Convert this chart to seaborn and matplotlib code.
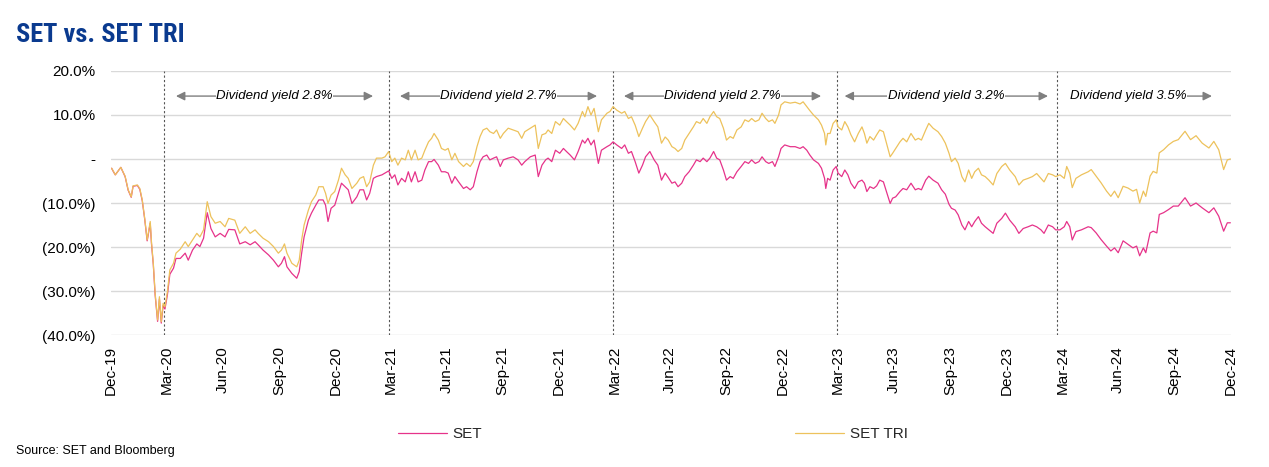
import matplotlib
matplotlib.use("Agg")
import matplotlib.pyplot as plt
import matplotlib.dates as mdates
from matplotlib import font_manager
import numpy as np
import pandas as pd
import seaborn as sns

# ---------------- data ----------------
start_date = "2019-12-31"
days_since_start = [
    1, 4, 7, 16, 23, 28, 33, 36, 43, 47, 51, 55, 59, 64, 66, 69, 72, 76, 79, 82,
    85, 88, 92, 96, 102, 106, 113, 121, 126, 133, 140, 145, 151, 157, 163, 170, 178, 186, 192, 202,
    210, 219, 227, 235, 240, 248, 257, 265, 273, 278, 283, 287, 295, 303, 307, 311, 315, 322, 327, 334,
    339, 346, 350, 354, 359, 365, 371, 376, 382, 387, 393, 401, 406, 412, 417, 422, 428, 433, 442, 447,
    453, 458, 463, 468, 474, 480, 485, 490, 496, 501, 507, 512, 518, 523, 527, 534, 539, 545, 550, 556,
    561, 567, 575, 580, 586, 591, 597, 602, 607, 613, 618, 624, 629, 635, 640, 648, 656, 664, 670, 675,
    684, 692, 697, 703, 709, 713, 719, 725, 732, 738, 743, 749, 756, 762, 769, 773, 778, 783, 788, 795,
    800, 809, 814, 819, 825, 833, 838, 844, 849, 855, 861, 867, 872, 879, 886, 892, 898, 904, 909, 915,
    920, 925, 931, 936, 943, 950, 955, 961, 966, 972, 977, 983, 988, 993, 999, 1004, 1010, 1015, 1021, 1028,
    1034, 1040, 1045, 1051, 1057, 1062, 1068, 1073, 1079, 1083, 1089, 1093, 1099, 1108, 1116, 1124, 1129, 1135, 1140, 1146,
    1154, 1159, 1164, 1166, 1169, 1173, 1178, 1183, 1186, 1192, 1197, 1202, 1207, 1213, 1219, 1225, 1229, 1233, 1238, 1244,
    1249, 1254, 1260, 1265, 1271, 1275, 1280, 1287, 1292, 1298, 1305, 1312, 1317, 1322, 1329, 1334, 1341, 1349, 1355, 1361,
    1367, 1371, 1377, 1382, 1388, 1393, 1399, 1404, 1409, 1415, 1420, 1426, 1432, 1439, 1445, 1453, 1459, 1466, 1475, 1481,
    1488, 1496, 1503, 1510, 1517, 1522, 1529, 1536, 1541, 1548, 1555, 1559, 1564, 1568, 1574, 1583, 1594, 1599, 1607, 1615,
    1624, 1631, 1637, 1643, 1651, 1659, 1667, 1673, 1678, 1684, 1688, 1695, 1700, 1706, 1710, 1717, 1725, 1733, 1741, 1752,
    1761, 1770, 1780, 1791, 1799, 1807, 1815, 1821, 1826,
]
set_tri_return = [
    -2.1, -2.8, -3.6, -1.9, -3.9, -7.0, -8.6, -6.1, -5.9, -6.7, -9.3, -13.5, -18.4, -14.2, -18.8, -23.7, -30.5, -36.6, -31.3, -37.0,
    -32.8, -33.6, -30.2, -25.2, -23.7, -21.4, -20.5, -18.8, -19.9, -18.4, -16.9, -17.7, -16.1, -9.7, -13.1, -14.6, -14.2, -15.4, -13.5, -13.9,
    -16.9, -15.4, -16.9, -16.1, -16.9, -18.0, -18.8, -19.9, -21.4, -20.7, -19.3, -21.4, -23.7, -24.5, -23.0, -18.4, -15.0, -11.6, -9.7, -8.2,
    -6.3, -6.3, -7.8, -10.1, -8.2, -7.4, -4.8, -2.1, -3.6, -4.4, -6.7, -5.5, -4.4, -4.0, -6.3, -5.2, -1.4, 0.2, 0.2, 0.5,
    1.7, -0.6, 0.2, -1.4, 0.2, -0.2, 2.0, -0.2, 2.0, -0.2, 0.2, 2.0, 3.9, 4.7, 5.8, 4.3, 2.4, 2.0, 2.4, -0.2,
    1.3, -0.6, -1.7, -1.0, -1.7, -0.6, 2.8, 5.1, 6.6, 7.0, 6.2, 5.8, 6.6, 4.7, 5.8, 7.0, 6.6, 6.2, 4.7, 6.2,
    7.0, 7.7, 2.4, 5.5, 5.8, 6.6, 5.8, 8.5, 7.7, 9.2, 8.5, 7.7, 6.6, 8.1, 10.8, 9.6, 11.9, 10.0, 11.5, 6.2,
    8.9, 10.4, 10.8, 11.9, 11.1, 10.4, 10.8, 9.2, 9.6, 7.7, 5.1, 7.0, 8.5, 10.0, 8.5, 7.3, 3.6, 5.0, 4.3, 2.8,
    2.4, 1.7, 2.4, 4.3, 5.8, 7.3, 8.5, 8.1, 9.2, 8.1, 9.6, 10.8, 9.6, 9.2, 7.0, 4.3, 5.1, 4.7, 6.6, 7.3,
    8.9, 8.5, 9.2, 8.5, 8.9, 10.4, 9.2, 8.5, 8.9, 8.1, 10.0, 12.3, 13.0, 12.7, 12.9, 12.5, 13.0, 11.9, 11.0, 10.0,
    8.9, 7.7, 5.8, 3.2, 5.8, 5.8, 8.1, 8.9, 7.3, 6.6, 8.5, 7.3, 5.5, 3.9, 5.8, 7.3, 5.8, 3.6, 5.1, 4.3,
    5.5, 6.6, 6.2, 3.6, 0.5, 1.3, 2.4, 3.9, 4.7, 3.9, 5.8, 4.3, 4.7, 4.3, 6.6, 8.1, 7.0, 6.2, 5.1, 3.6,
    1.3, -0.6, 0.2, -1.0, -4.0, -5.2, -2.5, -4.4, -2.9, -2.1, -3.6, -4.0, -4.8, -5.9, -3.3, -1.7, -1.0, -2.5, -4.0, -5.9,
    -4.8, -4.4, -4.0, -3.3, -4.4, -5.2, -3.3, -3.6, -4.0, -3.6, -4.4, -1.7, -3.3, -6.5, -4.4, -3.6, -2.9, -2.4, -3.9, -5.4,
    -7.3, -8.5, -7.3, -8.8, -6.2, -6.6, -7.3, -6.9, -10.0, -7.3, -8.5, -3.9, -2.8, -3.2, 1.4, 2.1, 3.2, 4.0, 4.4, 6.3,
    4.4, 5.3, 3.6, 2.5, 4.0, 2.1, -2.4, -0.2, 0.0,
]
set_return = [
    -2.1, -2.9, -3.6, -1.9, -4.0, -7.1, -8.7, -6.2, -6.0, -6.9, -9.5, -13.7, -18.6, -14.6, -19.2, -24.0, -30.9, -36.9, -31.8, -37.3,
    -33.3, -34.1, -30.9, -26.2, -24.8, -22.6, -22.6, -21.4, -23.0, -20.7, -19.3, -19.9, -18.0, -12.2, -15.8, -17.7, -16.9, -17.7, -16.0, -16.1,
    -19.3, -18.8, -19.5, -18.8, -19.5, -20.7, -21.8, -23.0, -24.5, -23.7, -22.2, -24.5, -26.0, -27.1, -25.6, -21.4, -17.7, -13.9, -12.3, -10.5,
    -9.3, -9.3, -10.5, -14.2, -11.2, -10.5, -7.8, -5.5, -6.3, -7.0, -10.1, -8.6, -7.0, -7.0, -9.3, -7.8, -4.4, -4.0, -3.6, -3.2,
    -2.7, -4.4, -3.6, -5.9, -4.4, -5.2, -2.9, -5.2, -2.9, -5.2, -4.8, -2.5, -0.6, -0.6, -0.1, -1.4, -2.9, -2.9, -3.2, -5.5,
    -4.0, -5.2, -6.7, -6.3, -7.0, -6.3, -2.9, -0.6, 0.5, 0.9, -0.2, 0.2, 0.5, -1.7, -0.2, 0.2, 0.5, -0.2, -1.4, -0.6,
    0.5, 0.9, -4.0, -1.4, -0.2, 0.2, -0.6, 2.0, 1.3, 2.4, 1.7, 0.9, -0.2, 1.7, 4.3, 3.6, 4.7, 3.2, 4.3, -1.0,
    2.0, 2.8, 3.2, 3.9, 3.2, 2.4, 3.2, 1.3, 1.7, -0.6, -3.2, -1.4, 0.5, 1.7, -0.2, -1.4, -4.8, -3.2, -4.2, -5.5,
    -5.2, -6.3, -5.5, -4.0, -2.9, -1.4, -0.2, -0.6, 0.2, -0.6, 0.2, 1.7, 0.2, -0.2, -2.5, -4.8, -4.0, -4.4, -2.9, -1.7,
    -0.6, -1.0, -0.2, -1.0, -0.6, 0.5, -0.6, -1.0, -0.6, -1.7, 0.5, 2.4, 3.2, 2.8, 2.8, 2.4, 2.8, 2.0, 0.9, -0.2,
    -1.0, -2.1, -4.4, -6.7, -4.4, -4.8, -2.5, -1.7, -3.2, -4.0, -2.5, -3.6, -5.5, -6.7, -5.2, -4.8, -5.5, -7.4, -6.3, -6.7,
    -6.1, -4.8, -5.2, -7.4, -10.1, -8.9, -8.6, -7.4, -6.7, -7.0, -5.5, -7.0, -6.7, -7.0, -4.8, -3.9, -4.8, -5.5, -7.0, -8.0,
    -10.3, -11.2, -11.6, -12.7, -15.0, -16.1, -14.2, -15.4, -14.2, -13.1, -14.6, -15.4, -16.1, -16.9, -14.6, -13.5, -12.3, -13.9, -15.4, -16.9,
    -15.8, -15.4, -15.0, -15.4, -16.1, -16.9, -15.0, -15.4, -16.1, -16.1, -15.4, -14.2, -15.4, -18.4, -16.5, -16.1, -15.4, -15.6, -16.8, -18.3,
    -19.8, -20.9, -20.2, -21.3, -18.6, -19.4, -20.2, -19.8, -22.0, -20.2, -21.3, -16.8, -16.4, -16.8, -12.6, -12.2, -11.5, -10.7, -10.7, -8.8,
    -10.7, -10.0, -11.1, -12.2, -11.1, -13.0, -16.4, -14.5, -14.5,
]
series_names = ["SET", "SET TRI"]
series_colors = ["#E6338A", "#EDC25C"]
period_breaks = ["2020-03-27", "2021-03-29", "2022-03-29", "2023-03-30", "2024-03-22"]
period_labels = ["Dividend yield 2.8%", "Dividend yield 2.7%", "Dividend yield 2.7%",
                 "Dividend yield 3.2%", "Dividend yield 3.5%"]
y_ticks = [-40, -30, -20, -10, 0, 10, 20]
y_tick_labels = ["(40.0%)", "(30.0%)", "(20.0%)", "(10.0%)", "-", "10.0%", "20.0%"]
title_text = "SET vs. SET TRI"
source_text = "Source: SET and Bloomberg"

# ---------------- figure ----------------
sns.set_theme(style="white")
plt.rcParams["font.family"] = ["Liberation Sans", "DejaVu Sans"]

# pick the narrowest installed bold family for the condensed headline
installed = {f.name for f in font_manager.fontManager.ttflist}
title_family = "Liberation Sans"
title_stretch = "normal"
for cand in ["Roboto Condensed", "Liberation Sans Narrow", "Open Sans Condensed",
             "Noto Sans Condensed", "DejaVu Sans Condensed"]:
    if cand in installed:
        title_family = cand
        break
condensed_files = [f for f in font_manager.fontManager.ttflist
                   if f.stretch in ("condensed", "semi-condensed", "extra-condensed", 600, 500, 300, 200)
                   or "Condensed" in f.fname or "Narrow" in f.fname]
if title_family == "Liberation Sans" and condensed_files:
    title_family = condensed_files[0].name
    title_stretch = "condensed"

W, H = 1269, 467
fig = plt.figure(figsize=(W / 100, H / 100), dpi=100)
ax = fig.add_axes([111 / W, 1 - 335 / H, 1120 / W, 264 / H])

dates = pd.Timestamp(start_date) + pd.to_timedelta(days_since_start, unit="D")
wide = pd.DataFrame({"date": dates, "SET": set_return, "SET TRI": set_tri_return})
long_df = wide.melt(id_vars="date", var_name="series", value_name="ret")

sns.lineplot(data=long_df, x="date", y="ret", hue="series", hue_order=series_names,
             palette=dict(zip(series_names, series_colors)), linewidth=0.9,
             estimator=None, ax=ax)

ax.set_ylim(-40, 20)
ax.set_yticks(y_ticks)
ax.set_yticklabels(y_tick_labels)
ax.set_xlim(pd.Timestamp("2019-12-31"), pd.Timestamp("2024-12-31"))
quarter_ticks = pd.date_range("2019-12-31", "2024-12-31", freq=pd.offsets.QuarterEnd())
ax.set_xticks(quarter_ticks)
ax.xaxis.set_major_formatter(mdates.DateFormatter("%b-%y"))
plt.setp(ax.get_xticklabels(), rotation=90)
ax.set_xlabel("")
ax.set_ylabel("")
ax.tick_params(axis="y", length=0, labelsize=11, pad=11, colors="black")
ax.tick_params(axis="x", length=0, labelsize=11, pad=8, colors="black")
ax.yaxis.grid(True, color="#d9d9d9", linewidth=1)
ax.xaxis.grid(False)
ax.set_axisbelow(True)
for s in ax.spines.values():
    s.set_visible(False)

for d in period_breaks:
    ax.axvline(pd.Timestamp(d), color="#555555", linewidth=0.8,
               linestyle=(0, (2, 2)), zorder=1.5)

# dividend-yield annotations (axes-fraction placement)
arrow_y = 0.905
arrow_spans = [(0.058, 0.234), (0.258, 0.434), (0.458, 0.634), (0.655, 0.8366)]
arrow_grey = "#7f7f7f"
for (x0, x1), lab in zip(arrow_spans, period_labels[:4]):
    ax.annotate("", xy=(x1, arrow_y), xytext=(x0, arrow_y), xycoords="axes fraction",
                arrowprops=dict(arrowstyle="<|-|>", color=arrow_grey, lw=1,
                                mutation_scale=13, shrinkA=0, shrinkB=0))
    ax.text((x0 + x1) / 2, arrow_y, lab, transform=ax.transAxes, ha="center", va="center",
            fontsize=9.5, style="italic", color="black",
            bbox=dict(facecolor="white", edgecolor="none", pad=0.5))
ax.annotate("", xy=(0.983, arrow_y), xytext=(0.958, arrow_y), xycoords="axes fraction",
            arrowprops=dict(arrowstyle="-|>", color=arrow_grey, lw=1,
                            mutation_scale=13, shrinkA=0, shrinkB=0))
ax.text(0.9085, arrow_y, period_labels[4], transform=ax.transAxes, ha="center", va="center",
        fontsize=9.5, style="italic", color="black",
        bbox=dict(facecolor="white", edgecolor="none", pad=0.5))

# legend
handles, labels = ax.get_legend_handles_labels()
ax.get_legend().remove()
fig.legend(handles, labels, loc="center", bbox_to_anchor=(653 / W, 1 - 434 / H), ncol=2,
           frameon=False, fontsize=11, handlelength=3.2, handletextpad=0.35,
           columnspacing=20.5)

# title and source
title_size = 19 if title_family != "Liberation Sans" else 15
fig.text(16 / W, 1 - 42 / H, title_text, ha="left", va="baseline", fontsize=title_size,
         fontweight="bold", fontstretch=title_stretch, color="#0a3a8f",
         family=[title_family, "DejaVu Sans"])
fig.text(16 / W, 1 - 451 / H, source_text, ha="left", va="center", fontsize=9, color="black")

fig.savefig("out.png", dpi=100)
